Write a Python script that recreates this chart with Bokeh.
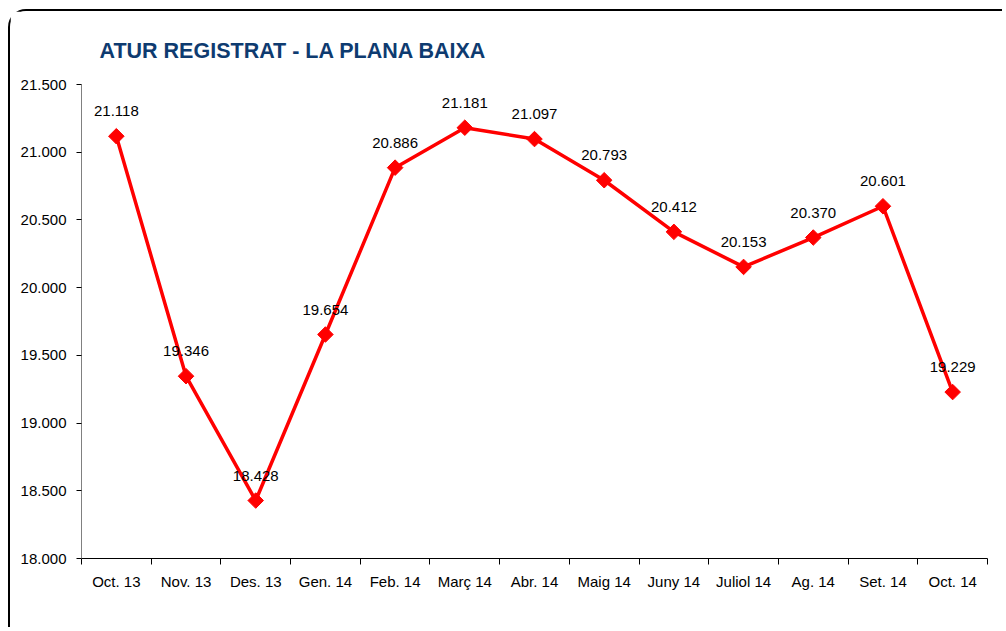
from bokeh.plotting import figure
from bokeh.models import FixedTicker, ColumnDataSource, Range1d
from bokeh.embed import file_html
from bokeh.resources import INLINE

categories = ["Oct. 13", "Nov. 13", "Des. 13", "Gen. 14", "Feb. 14", "Març 14", "Abr. 14",
              "Maig 14", "Juny 14", "Juliol 14", "Ag. 14", "Set. 14", "Oct. 14"]
values = [21118, 19346, 18428, 19654, 20886, 21181, 21097, 20793, 20412, 20153, 20370, 20601, 19229]
y_ticks = [18000, 18500, 19000, 19500, 20000, 20500, 21000, 21500]

def fmt(v):
    return f"{v:,}".replace(",", ".")

xs = list(range(len(categories)))
src = ColumnDataSource(dict(x=xs, y=values, lab=[fmt(v) for v in values]))

p = figure(width=994, height=618, output_backend="svg", toolbar_location=None,
           x_range=Range1d(-0.5, len(categories) - 0.5),
           y_range=Range1d(y_ticks[0], y_ticks[-1]),
           min_border_left=71, min_border_right=17, min_border_top=73, min_border_bottom=71)
p.margin = (9, 0, 0, 8)
p.styles = {"border-top": "2px solid #000", "border-left": "2px solid #000",
            "border-top-left-radius": "18px"}
p.outline_line_color = None
p.xgrid.grid_line_color = None
p.ygrid.grid_line_color = None

p.title.text = "ATUR REGISTRAT - LA PLANA BAIXA"
p.title.text_font = "Liberation Sans"
p.title.text_font_size = "21.5px"
p.title.text_color = "#0E3B70"
p.title.align = "left"
p.title.vertical_align = "top"
p.title.offset = 18
p.title.standoff = 40

p.line("x", "y", source=src, line_color="#FF0000", line_width=3.5)
p.scatter("x", "y", source=src, marker="square", angle=0.785398, size=11,
          fill_color="#FF0000", line_color="#FF0000")
p.text("x", "y", text="lab", source=src, text_align="center", text_baseline="middle",
       y_offset=-25, text_font_size="15px", text_color="#000000",
       text_font={"value": "Liberation Sans"})

xa = p.xaxis[0]
xa.ticker = FixedTicker(ticks=xs, minor_ticks=[i - 0.5 for i in range(len(categories) + 1)])
xa.major_label_overrides = {i: c for i, c in enumerate(categories)}
xa.major_tick_line_color = None
xa.major_tick_out = 6
xa.major_tick_in = 0
xa.minor_tick_line_color = "#000000"
xa.minor_tick_out = 6
xa.minor_tick_in = 0
xa.axis_line_color = "#000000"
xa.major_label_standoff = 8
xa.major_label_text_font = "Liberation Sans"
xa.major_label_text_font_size = "15px"
xa.major_label_text_color = "#000000"

ya = p.yaxis[0]
ya.ticker = FixedTicker(ticks=y_ticks)
ya.major_label_overrides = {v: fmt(v) for v in y_ticks}
ya.axis_line_color = "#808080"
ya.major_tick_line_color = "#000000"
ya.major_tick_out = 5
ya.major_tick_in = 0
ya.minor_tick_line_color = None
ya.major_label_standoff = 10
ya.major_label_text_font = "Liberation Sans"
ya.major_label_text_font_size = "15px"
ya.major_label_text_color = "#000000"

open("out.html", "w").write(file_html(p, INLINE))
